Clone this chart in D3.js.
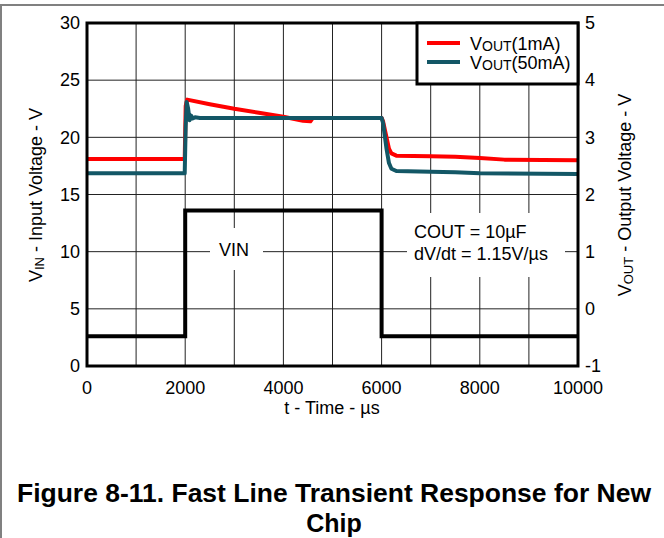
<!DOCTYPE html>
<html>
<head>
<meta charset="utf-8">
<script src="https://cdn.jsdelivr.net/npm/d3@7"></script>
<style>
  body { margin: 0; background: #fff; }
  svg { display: block; font-family: "Liberation Sans", Arial, sans-serif; }
</style>
</head>
<body>
<div id="chart"></div>
<script>
// time axis ticks (µs)
const timeTicks = [0, 2000, 4000, 6000, 8000, 10000];
const vinTicks = [0, 5, 10, 15, 20, 25, 30];
const voutTicks = [-1, 0, 1, 2, 3, 4, 5];

// input step (left axis, V)
const vinTime = [0, 2000, 2000, 6000, 6000, 10000];
const vinValue = [2.6, 2.6, 13.6, 13.6, 2.6, 2.6];

// VOUT(1mA), right axis (V)
const out1Time = [0, 1990, 2010, 2040, 2500, 3000, 3500, 4000, 4400, 4550, 4600, 6000, 6030, 6100, 6150, 6200, 6300, 7000, 7500, 8000, 8500, 10000];
const out1Value = [2.62, 2.62, 3.55, 3.66, 3.58, 3.50, 3.43, 3.36, 3.29, 3.28, 3.34, 3.34, 3.28, 3.00, 2.80, 2.72, 2.68, 2.67, 2.66, 2.64, 2.61, 2.60];

// VOUT(50mA), right axis (V)
const out50Time = [0, 1990, 2010, 2030, 2060, 2090, 2120, 2150, 2200, 2300, 6000, 6030, 6100, 6150, 6200, 6300, 7000, 7500, 8000, 10000];
const out50Value = [2.37, 2.37, 3.20, 3.62, 3.50, 3.30, 3.38, 3.33, 3.35, 3.34, 3.34, 3.25, 2.80, 2.55, 2.45, 2.41, 2.40, 2.39, 2.37, 2.36];

const seriesNames = ["1mA", "50mA"];
const seriesColors = ["#ff0000", "#135766"];

const width = 664, height = 538;
const plot = { left: 87, top: 23, right: 578, bottom: 366 };

const svg = d3.select("#chart").append("svg")
  .attr("width", width)
  .attr("height", height);

// outer frame (top + left only)
svg.append("path")
  .attr("d", "M1,538 L1,5 L664,5")
  .attr("fill", "none")
  .attr("stroke", "#808080")
  .attr("stroke-width", 2);

const x = d3.scaleLinear().domain([0, 10000]).range([plot.left, plot.right]);
const yIn = d3.scaleLinear().domain([0, 30]).range([plot.bottom, plot.top]);
const yOut = d3.scaleLinear().domain([-1, 5]).range([plot.bottom, plot.top]);

/** grid */
const grid = svg.append("g").attr("stroke", "#222").attr("stroke-width", 1);
grid.selectAll("line.v")
  .data(d3.range(1000, 10000, 1000))
  .enter().append("line")
  .attr("x1", d => x(d)).attr("x2", d => x(d))
  .attr("y1", plot.top).attr("y2", plot.bottom);
grid.selectAll("line.h")
  .data(vinTicks.slice(1, -1))
  .enter().append("line")
  .attr("x1", plot.left).attr("x2", plot.right)
  .attr("y1", d => yIn(d)).attr("y2", d => yIn(d));

/** white boxes behind the annotations */
svg.append("rect").attr("x", 210).attr("y", 228).attr("width", 53).attr("height", 42).attr("fill", "#fff");
svg.append("rect").attr("x", 407).attr("y", 213).attr("width", 158).attr("height", 64).attr("fill", "#fff");

/** lines */
const lineIn = d3.line().x(d => x(d[0])).y(d => yIn(d[1]));
const lineOut = d3.line().x(d => x(d[0])).y(d => yOut(d[1]));

svg.append("path")
  .datum(d3.zip(vinTime, vinValue))
  .attr("fill", "none")
  .attr("stroke", "#000")
  .attr("stroke-width", 4)
  .attr("d", lineIn);

[[out1Time, out1Value], [out50Time, out50Value]].forEach((s, i) => {
  svg.append("path")
    .datum(d3.zip(s[0], s[1]))
    .attr("fill", "none")
    .attr("stroke", seriesColors[i])
    .attr("stroke-width", 4)
    .attr("stroke-linejoin", "round")
    .attr("d", lineOut);
});

/** plot border */
svg.append("rect")
  .attr("x", plot.left).attr("y", plot.top)
  .attr("width", plot.right - plot.left).attr("height", plot.bottom - plot.top)
  .attr("fill", "none").attr("stroke", "#000").attr("stroke-width", 3);

/** axes tick labels */
const fs = 18;
svg.append("g").selectAll("text")
  .data(vinTicks).enter().append("text")
  .attr("x", 80).attr("y", d => yIn(d)).attr("dy", "0.35em")
  .attr("text-anchor", "end").attr("font-size", fs)
  .text(d => d);

svg.append("g").selectAll("text")
  .data(voutTicks).enter().append("text")
  .attr("x", 585).attr("y", d => yOut(d)).attr("dy", "0.35em")
  .attr("font-size", fs)
  .text(d => d);

svg.append("g").selectAll("text")
  .data(timeTicks).enter().append("text")
  .attr("x", d => x(d)).attr("y", 394)
  .attr("text-anchor", "middle").attr("font-size", fs)
  .text(d => d);

/** axis titles */
svg.append("text")
  .attr("x", 332).attr("y", 414)
  .attr("text-anchor", "middle").attr("font-size", fs)
  .text("t - Time - µs");

const leftTitle = svg.append("text")
  .attr("transform", "translate(42,195) rotate(-90)")
  .attr("text-anchor", "middle").attr("font-size", fs);
leftTitle.append("tspan").text("V");
leftTitle.append("tspan").attr("font-size", 13).attr("dy", 2).text("IN");
leftTitle.append("tspan").attr("dy", -2).text(" - Input Voltage - V");

const rightTitle = svg.append("text")
  .attr("transform", "translate(631,195) rotate(-90)")
  .attr("text-anchor", "middle").attr("font-size", fs);
rightTitle.append("tspan").text("V");
rightTitle.append("tspan").attr("font-size", 13).attr("dy", 2).text("OUT");
rightTitle.append("tspan").attr("dy", -2).text(" - Output Voltage - V");

/** annotations */
svg.append("text").attr("x", 234).attr("y", 256)
  .attr("text-anchor", "middle").attr("font-size", fs).text("VIN");
svg.append("text").attr("x", 414).attr("y", 238).attr("font-size", fs).text("COUT = 10µF");
svg.append("text").attr("x", 414).attr("y", 260).attr("font-size", fs).text("dV/dt = 1.15V/µs");

/** legend */
const legend = svg.append("g");
legend.append("rect")
  .attr("x", 417).attr("y", plot.top)
  .attr("width", plot.right - 417).attr("height", 61)
  .attr("fill", "#fff").attr("stroke", "#000").attr("stroke-width", 3);
seriesNames.forEach((name, i) => {
  const ly = 43 + i * 19;
  legend.append("line")
    .attr("x1", 427).attr("x2", 460)
    .attr("y1", ly).attr("y2", ly)
    .attr("stroke", seriesColors[i]).attr("stroke-width", 4);
  const t = legend.append("text")
    .attr("x", 470).attr("y", ly + 7).attr("font-size", fs);
  t.append("tspan").text("V");
  t.append("tspan").attr("font-size", 14).attr("dy", 1).text("OUT");
  t.append("tspan").attr("dy", -1).text("(" + name + ")");
});

/** caption */
const caption = svg.append("text")
  .attr("text-anchor", "middle").attr("font-size", 25).attr("font-weight", "bold");
caption.append("tspan").attr("x", 334).attr("y", 502)
  .attr("textLength", 634).attr("lengthAdjust", "spacingAndGlyphs")
  .text("Figure 8-11. Fast Line Transient Response for New");
caption.append("tspan").attr("x", 334).attr("y", 532).text("Chip");
</script>
</body>
</html>
